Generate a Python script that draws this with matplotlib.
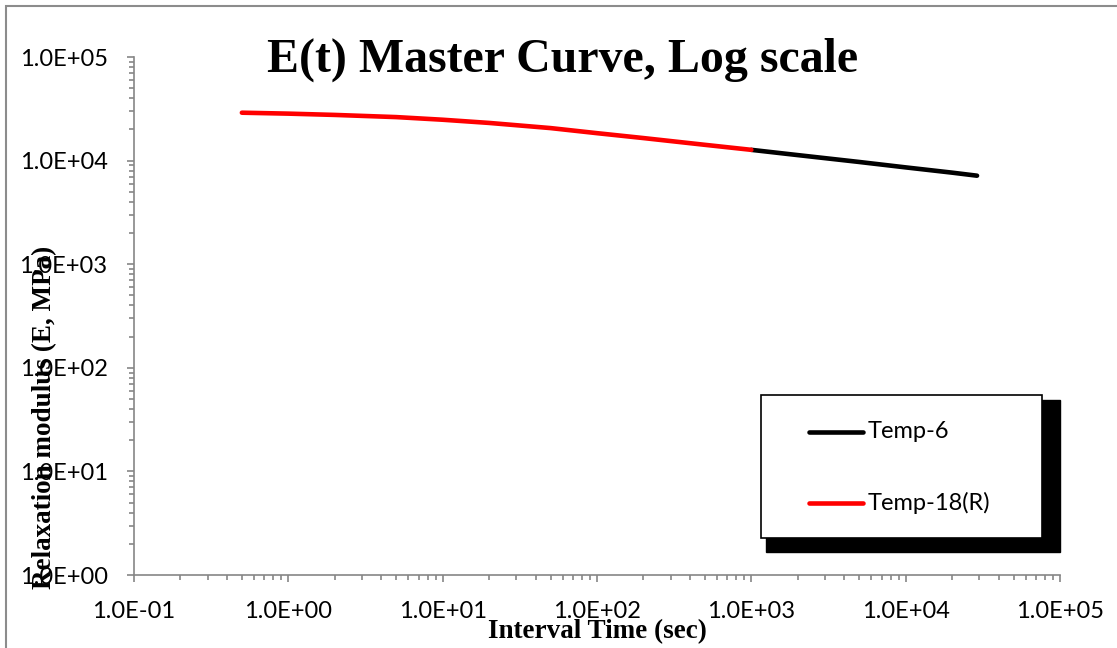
# E(t) master curve, log-log, Excel style chart
import numpy as np
import matplotlib.pyplot as plt
from matplotlib.patches import Rectangle
from matplotlib.lines import Line2D

# series
series_names = ["Temp-6", "Temp-18(R)"]
series_colors = ["black", "red"]

t_temp6 = [1000, 2000, 5000, 10000, 20000, 29000]
E_temp6 = [12700, 11300, 9700, 8600, 7650, 7150]

t_temp18 = [0.5, 1, 2, 5, 10, 20, 50, 100, 200, 500, 1000]
E_temp18 = [29000, 28400, 27600, 26300, 24800, 23100, 20600, 18400, 16500, 14200, 12700]

x_ticks = [1e-1, 1e0, 1e1, 1e2, 1e3, 1e4, 1e5]
y_ticks = [1e0, 1e1, 1e2, 1e3, 1e4, 1e5]

W, H = 1117, 648
fig = plt.figure(figsize=(W / 100, H / 100), dpi=100)
ax = fig.add_axes([134 / W, 1 - 575 / H, (1060 - 134) / W, (575 - 57) / H])

def px(x, y):
    return (x / W, 1 - y / H)

ax.plot(t_temp6, E_temp6, color=series_colors[0], lw=3.3, solid_capstyle="round")
ax.plot(t_temp18, E_temp18, color=series_colors[1], lw=3.3, solid_capstyle="round")

ax.set_xscale("log")
ax.set_yscale("log")
ax.set_xlim(1e-1, 1e5)
ax.set_ylim(1e0, 1e5)
ax.set_xticks(x_ticks)
ax.set_yticks(y_ticks)
ax.set_xticklabels(["%.1E" % v for v in x_ticks])
ax.set_yticklabels(["%.1E" % v for v in y_ticks])

gray = "#868686"
for s in ["top", "right"]:
    ax.spines[s].set_visible(False)
for s in ["left", "bottom"]:
    ax.spines[s].set_color(gray)
    ax.spines[s].set_linewidth(1.2)
ax.tick_params(which="major", direction="out", length=5, width=1.2, color=gray,
               labelsize=17, pad=14)
ax.tick_params(which="minor", direction="out", length=3.6, width=1.2, color=gray)
for lab in ax.get_xticklabels() + ax.get_yticklabels():
    lab.set_fontfamily("Lato")

# title and axis labels (overlapping tick labels like the original)
fig.text(563 / W, 1 - 72 / H, "E(t) Master Curve, Log scale", ha="center", va="baseline",
         fontsize=34.5, fontweight="bold", family="Liberation Serif")
fig.text(45 / W, 1 - 417 / H, "Relaxation modulus (E, MPa)", ha="center", va="center",
         rotation=90, fontsize=19.5, fontweight="bold", family="Liberation Serif")
fig.text(597 / W, 1 - 632 / H, "Interval Time (sec)", ha="center", va="center",
         fontsize=19.5, fontweight="bold", family="Liberation Serif")

# outer chart border
fig.add_artist(Rectangle(px(6, 700), 1200 / W, 694 / H, transform=fig.transFigure,
                         fill=False, edgecolor="#8c8c8c", lw=1.5))

# legend box with shadow
fig.add_artist(Rectangle(px(766, 552), (1060 - 766) / W, (552 - 400) / H,
                         transform=fig.transFigure, facecolor="black", edgecolor="black"))
fig.add_artist(Rectangle(px(761, 538), (1042 - 761) / W, (538 - 395) / H,
                         transform=fig.transFigure, facecolor="white", edgecolor="black", lw=1.2))
for name, col, yy in zip(series_names, series_colors, [432, 503]):
    x0, y0 = px(809, yy)
    x1, _ = px(863, yy)
    fig.add_artist(Line2D([x0, x1], [y0, y0], transform=fig.transFigure, color=col,
                          lw=3.3, solid_capstyle="round"))
    fig.text(868 / W, y0, name, ha="left", va="center", fontsize=17, family="Lato")

plt.savefig("out.png", dpi=100, facecolor="white")
